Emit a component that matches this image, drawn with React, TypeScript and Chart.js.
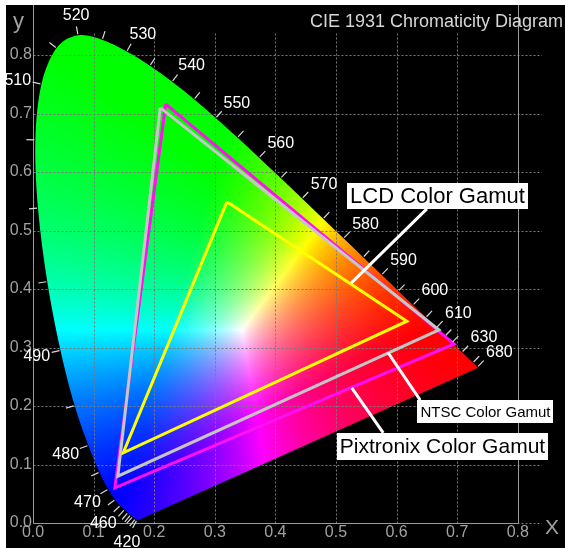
import React, { useEffect, useRef } from "react";
import { Chart, registerables } from "chart.js";

Chart.register(...registerables);

// ---- Spectral locus (CIE 1931 2°), wavelengths in nm ----
const WAVELENGTHS = [
  380, 385, 390, 395, 400, 405, 410, 415,
  420, 425, 430, 435, 440, 445, 450, 455,
  460, 465, 470, 475, 480, 485, 490, 495,
  500, 505, 510, 515, 520, 525, 530, 535,
  540, 545, 550, 555, 560, 565, 570, 575,
  580, 585, 590, 595, 600, 605, 610, 615,
  620, 625, 630, 635, 640, 645, 650, 655,
  660, 665, 670, 675, 680, 685, 690, 695,
  700,
];
const LOCUS_X = [
  0.1741, 0.174, 0.1738, 0.1736, 0.1733, 0.173, 0.1726, 0.1721,
  0.1714, 0.1703, 0.1689, 0.1669, 0.1644, 0.1611, 0.1566, 0.151,
  0.144, 0.1355, 0.1241, 0.1096, 0.0913, 0.0687, 0.0454, 0.0235,
  0.0082, 0.0039, 0.0139, 0.0389, 0.0743, 0.1142, 0.1547, 0.1929,
  0.2296, 0.2658, 0.3016, 0.3373, 0.3731, 0.4087, 0.4441, 0.4788,
  0.5125, 0.5448, 0.5752, 0.6029, 0.627, 0.6482, 0.6658, 0.6801,
  0.6915, 0.7006, 0.7079, 0.714, 0.719, 0.723, 0.726, 0.7283,
  0.73, 0.7311, 0.732, 0.7327, 0.7334, 0.734, 0.7344, 0.7346,
  0.7347,
];
const LOCUS_Y = [
  0.005, 0.005, 0.0049, 0.0049, 0.0048, 0.0048, 0.0048, 0.0048,
  0.0051, 0.0058, 0.0069, 0.0086, 0.0109, 0.0138, 0.0177, 0.0227,
  0.0297, 0.0399, 0.0578, 0.0868, 0.1327, 0.2007, 0.295, 0.4127,
  0.5384, 0.6548, 0.7502, 0.812, 0.8338, 0.8262, 0.8059, 0.7816,
  0.7543, 0.7243, 0.6923, 0.6589, 0.6245, 0.5896, 0.5547, 0.5202,
  0.4866, 0.4544, 0.4242, 0.3965, 0.3725, 0.3514, 0.334, 0.3197,
  0.3083, 0.2993, 0.292, 0.2859, 0.2809, 0.277, 0.274, 0.2717,
  0.27, 0.2689, 0.268, 0.2673, 0.2666, 0.266, 0.2656, 0.2654,
  0.2653,
];
const LABELED_WAVELENGTHS = [420, 460, 470, 480, 490, 510, 520, 530, 540, 550, 560, 570, 580, 590, 600, 610, 630, 680];
const TICKED_WAVELENGTHS = [
  420, 430, 440, 445, 450, 455, 460, 465, 470, 475, 480, 485, 490, 495,
  500, 505, 510, 515, 520, 525, 530, 535, 540, 545, 550, 555, 560, 565,
  570, 575, 580, 585, 590, 595, 600, 605, 610, 615, 620, 630, 650, 680,
];

// ---- Gamut triangles (green, red, blue vertices) ----
const GAMUT_NAMES = ["NTSC Color Gamut", "Pixtronix Color Gamut", "LCD Color Gamut"];
const NTSC_X = [0.21, 0.67, 0.14];
const NTSC_Y = [0.71, 0.33, 0.08];
const PIXTRONIX_X = [0.219, 0.695, 0.135];
const PIXTRONIX_Y = [0.716, 0.306, 0.06];
const LCD_X = [0.32, 0.617, 0.149];
const LCD_Y = [0.549, 0.345, 0.12];

// ---- Axes ----
const X_TICK_LABELS = ["0.0", "0.1", "0.2", "0.3", "0.4", "0.5", "0.6", "0.7", "0.8"];
const Y_TICK_LABELS = ["0.0", "0.1", "0.2", "0.3", "0.4", "0.5", "0.6", "0.7", "0.8"];
const TITLE = "CIE 1931 Chromaticity Diagram";
const X_TITLE = "X";
const Y_TITLE = "y";

// ---- Styling / layout constants ----
const FONT = '"Liberation Sans", Arial, Helvetica, sans-serif';
const X_MAX = 0.84;
const Y_MAX = 0.8855;
const GRID_TOP = 0.838;
const AXIS_END = 0.8;
const TICK_COLOR = "#a2a2a2";
const GRID_COLOR = "#7a7a7a";
const AXIS_COLOR = "#9a9a9a";
const WHITE_X = 0.345;
const WHITE_Y = 0.33;

const ANNOTATIONS = [
  { name: 2, size: 22, from: [0.525, 0.41], to: [0.65, 0.537], box: [0.6675, 0.559], h: 26 },
  { name: 0, size: 15, from: [0.586, 0.291], to: [0.639, 0.21], box: [0.7467, 0.1906], h: 23 },
  { name: 1, size: 21, from: [0.526, 0.231], to: [0.578, 0.154], box: [0.6757, 0.1308], h: 27 },
];

function linRGB(x: number, y: number): [number, number, number] {
  const X = x / y;
  const Y = 1;
  const Z = (1 - x - y) / y;
  return [
    3.2406 * X - 1.5372 * Y - 0.4986 * Z,
    -0.9689 * X + 1.8758 * Y + 0.0415 * Z,
    0.0557 * X - 0.204 * Y + 1.057 * Z,
  ];
}
const WHITE_RGB = linRGB(WHITE_X, WHITE_Y);

function chroma(x: number, y: number): [number, number, number] {
  const c = linRGB(x, y);
  const r = Math.max(c[0], 0) / WHITE_RGB[0];
  const g = Math.max(c[1], 0) / WHITE_RGB[1];
  const b = Math.max(c[2], 0) / WHITE_RGB[2];
  const m = Math.max(r, g, b) || 1;
  return [(r / m) * 255, (g / m) * 255, (b / m) * 255];
}

function pts(xs: number[], ys: number[]) {
  const p = xs.map((x, i) => ({ x, y: ys[i] }));
  p.push({ x: xs[0], y: ys[0] });
  return p;
}

const ciePlugin = {
  id: "cie",
  beforeDatasetsDraw(chart: any) {
    const { ctx, chartArea } = chart;
    const xs = chart.scales.x;
    const ys = chart.scales.y;
    const left = Math.floor(chartArea.left);
    const top = Math.floor(chartArea.top);
    const w = Math.ceil(chartArea.right) - left;
    const h = Math.ceil(chartArea.bottom) - top;
    const off = document.createElement("canvas");
    off.width = w;
    off.height = h;
    const octx = off.getContext("2d")!;
    const img = octx.createImageData(w, h);
    const d = img.data;
    for (let j = 0; j < h; j++) {
      const yv = ys.getValueForPixel(top + j + 0.5);
      if (yv <= 0.0005) continue;
      for (let i = 0; i < w; i++) {
        const xv = xs.getValueForPixel(left + i + 0.5);
        if (xv <= 0) continue;
        const [r, g, b] = chroma(xv, yv);
        const k = (j * w + i) * 4;
        d[k] = r;
        d[k + 1] = g;
        d[k + 2] = b;
        d[k + 3] = 255;
      }
    }
    octx.putImageData(img, 0, 0);

    // smooth (Catmull-Rom) spectral locus outline used as a clip path
    const P = LOCUS_X.map((lx, k) => [xs.getPixelForValue(lx), ys.getPixelForValue(LOCUS_Y[k])]);
    const n = P.length;
    ctx.save();
    ctx.beginPath();
    ctx.moveTo(P[0][0], P[0][1]);
    for (let i = 0; i < n - 1; i++) {
      const p0 = P[Math.max(0, i - 1)];
      const p1 = P[i];
      const p2 = P[i + 1];
      const p3 = P[Math.min(n - 1, i + 2)];
      ctx.bezierCurveTo(
        p1[0] + (p2[0] - p0[0]) / 6,
        p1[1] + (p2[1] - p0[1]) / 6,
        p2[0] - (p3[0] - p1[0]) / 6,
        p2[1] - (p3[1] - p1[1]) / 6,
        p2[0],
        p2[1]
      );
    }
    ctx.closePath();
    ctx.clip();
    ctx.drawImage(off, left, top);
    ctx.restore();

    // grid
    ctx.save();
    ctx.lineWidth = 1;
    ctx.strokeStyle = GRID_COLOR;
    ctx.setLineDash([2, 2]);
    const y0 = Math.round(ys.getPixelForValue(0)) + 0.5;
    const x0 = Math.round(xs.getPixelForValue(0)) + 0.5;
    X_TICK_LABELS.forEach((t) => {
      const v = parseFloat(t);
      if (v <= 0 || v >= AXIS_END) return;
      const px = Math.round(xs.getPixelForValue(v)) + 0.5;
      ctx.beginPath();
      ctx.moveTo(px, y0);
      ctx.lineTo(px, ys.getPixelForValue(GRID_TOP));
      ctx.stroke();
    });
    Y_TICK_LABELS.forEach((t) => {
      const v = parseFloat(t);
      const py = Math.round(ys.getPixelForValue(v)) + 0.5;
      ctx.beginPath();
      ctx.moveTo(x0, py);
      ctx.lineTo(chartArea.right, py);
      ctx.stroke();
    });
    ctx.setLineDash([]);
    ctx.strokeStyle = AXIS_COLOR;
    const xe = Math.round(xs.getPixelForValue(AXIS_END)) + 0.5;
    ctx.beginPath();
    ctx.moveTo(x0, chartArea.top);
    ctx.lineTo(x0, y0);
    ctx.lineTo(xe, y0);
    ctx.moveTo(xe, y0);
    ctx.lineTo(xe, chartArea.top);
    ctx.stroke();
    ctx.restore();
  },
  afterDatasetsDraw(chart: any) {
    const { ctx } = chart;
    const xs = chart.scales.x;
    const ys = chart.scales.y;
    const n = WAVELENGTHS.length;
    const P = (k: number) => [xs.getPixelForValue(LOCUS_X[k]), ys.getPixelForValue(LOCUS_Y[k])];
    const normal = (k: number) => {
      const a = P(Math.max(0, k - 1));
      const b = P(Math.min(n - 1, k + 1));
      const dx = b[0] - a[0];
      const dy = b[1] - a[1];
      const len = Math.hypot(dx, dy) || 1;
      return [dy / len, -dx / len];
    };
    ctx.save();
    ctx.strokeStyle = "#d8d8d8";
    ctx.lineWidth = 1.2;
    TICKED_WAVELENGTHS.forEach((wl) => {
      const k = WAVELENGTHS.indexOf(wl);
      const p = P(k);
      const nv = normal(k);
      ctx.beginPath();
      ctx.moveTo(p[0] + nv[0] * 1, p[1] + nv[1] * 1);
      ctx.lineTo(p[0] + nv[0] * 9, p[1] + nv[1] * 9);
      ctx.stroke();
    });
    ctx.fillStyle = "#ffffff";
    ctx.font = `16px ${FONT}`;
    ctx.textAlign = "center";
    ctx.textBaseline = "middle";
    LABELED_WAVELENGTHS.forEach((wl) => {
      const k = WAVELENGTHS.indexOf(wl);
      const p = P(k);
      const nv = normal(k);
      const tw = ctx.measureText(String(wl)).width;
      const d0 = 14;
      const th = nv[1] > 0 ? 22 : 14;
      const lx = p[0] + nv[0] * d0 + (nv[0] * tw) / 2 + 3;
      const ly = p[1] + nv[1] * d0 + (nv[1] * th) / 2 + 1;
      ctx.fillText(String(wl), lx, ly);
    });

    // annotations
    ANNOTATIONS.forEach((a) => {
      const text = GAMUT_NAMES[a.name];
      ctx.strokeStyle = "#ffffff";
      ctx.lineWidth = 3;
      ctx.beginPath();
      ctx.moveTo(xs.getPixelForValue(a.from[0]), ys.getPixelForValue(a.from[1]));
      ctx.lineTo(xs.getPixelForValue(a.to[0]), ys.getPixelForValue(a.to[1]));
      ctx.stroke();
      ctx.font = `${a.size}px ${FONT}`;
      const tw = ctx.measureText(text).width;
      const cx = xs.getPixelForValue(a.box[0]);
      const cy = ys.getPixelForValue(a.box[1]);
      const bw = tw + 6;
      ctx.fillStyle = "#ffffff";
      ctx.fillRect(Math.round(cx - bw / 2), Math.round(cy - a.h / 2), Math.round(bw), a.h);
      ctx.fillStyle = "#000000";
      ctx.textAlign = "center";
      ctx.textBaseline = "middle";
      ctx.fillText(text, cx, cy + 1);
    });

    // title and axis titles
    ctx.fillStyle = "#d6d6d6";
    ctx.font = `18px ${FONT}`;
    ctx.textAlign = "right";
    ctx.textBaseline = "alphabetic";
    ctx.fillText(TITLE, 557, 22);
    ctx.fillStyle = TICK_COLOR;
    ctx.font = `22px ${FONT}`;
    ctx.textAlign = "left";
    ctx.fillText(Y_TITLE, 7, 23);
    ctx.font = `21px ${FONT}`;
    ctx.fillText(X_TITLE, 539, 529);
    ctx.restore();
  },
};

const zeroPad = (s: any) => {
  s.paddingTop = 0;
  s.paddingBottom = 0;
  s.paddingLeft = 0;
  s.paddingRight = 0;
};

export default function App() {
  const ref = useRef<HTMLCanvasElement>(null);
  useEffect(() => {
    if (!ref.current) return;
    const chart = new Chart(ref.current, {
      type: "scatter",
      data: {
        datasets: [
          {
            label: GAMUT_NAMES[0],
            data: pts(NTSC_X, NTSC_Y),
            showLine: true,
            borderColor: "#c6c6c6",
            borderWidth: 3,
            pointRadius: 0,
            fill: false,
          },
          {
            label: GAMUT_NAMES[1],
            data: pts(PIXTRONIX_X, PIXTRONIX_Y),
            showLine: true,
            borderColor: "#ff10f0",
            borderWidth: 3,
            pointRadius: 0,
            fill: false,
          },
          {
            label: GAMUT_NAMES[2],
            data: pts(LCD_X, LCD_Y),
            showLine: true,
            borderColor: "#ffff00",
            borderWidth: 3,
            pointRadius: 0,
            fill: false,
          },
        ],
      },
      options: {
        animation: false,
        responsive: false,
        devicePixelRatio: 1,
        layout: { autoPadding: false, padding: { top: 0, right: 23, left: 0, bottom: 0 } },
        plugins: {
          legend: { display: false },
          tooltip: { enabled: false },
          title: { display: false },
        },
        scales: {
          x: {
            type: "linear",
            min: 0,
            max: X_MAX,
            grid: { display: false, drawTicks: false },
            border: { display: false },
            ticks: {
              stepSize: 0.1,
              includeBounds: false,
              autoSkip: false,
              maxRotation: 0,
              padding: 0,
              color: TICK_COLOR,
              font: { family: FONT, size: 16 },
              callback: (v: any) => {
                const i = Math.round(Number(v) * 10);
                return X_TICK_LABELS[i] ?? "";
              },
            },
            afterFit: (s: any) => {
              s.height = 25;
              zeroPad(s);
            },
          },
          y: {
            type: "linear",
            min: 0,
            max: Y_MAX,
            grid: { display: false, drawTicks: false },
            border: { display: false },
            ticks: {
              stepSize: 0.1,
              includeBounds: false,
              autoSkip: false,
              padding: 1,
              color: TICK_COLOR,
              font: { family: FONT, size: 16 },
              callback: (v: any) => {
                const i = Math.round(Number(v) * 10);
                return Y_TICK_LABELS[i] ?? "";
              },
            },
            afterFit: (s: any) => {
              s.width = 27;
              zeroPad(s);
            },
          },
        },
      } as any,
      plugins: [ciePlugin],
    });
    return () => chart.destroy();
  }, []);
  return (
    <div style={{ position: "fixed", left: 0, top: 0, width: 565, height: 548, background: "#ffffff" }}>
      <canvas
        ref={ref}
        width={559}
        height={543}
        style={{ position: "absolute", left: 6, top: 5, width: 559, height: 543, background: "#000000" }}
      />
    </div>
  );
}
